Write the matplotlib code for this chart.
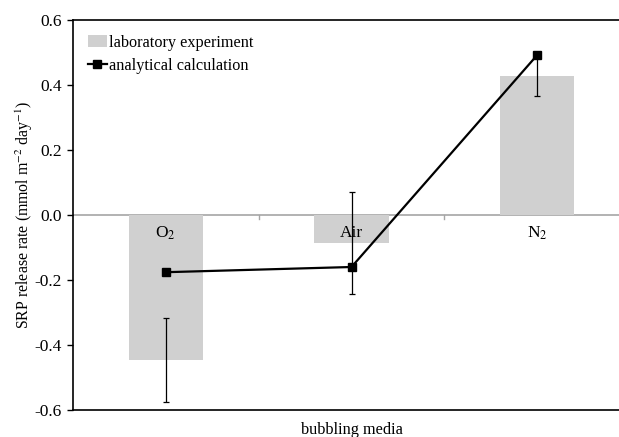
import numpy as np
import matplotlib.pyplot as plt
from matplotlib.ticker import FixedLocator

plt.rcParams['font.family'] = ['Liberation Serif', 'DejaVu Serif']
plt.rcParams['mathtext.fontset'] = 'stix'
plt.rcParams['axes.unicode_minus'] = False

# datos
medios = ['O$_2$', 'Air', 'N$_2$']
experimento = [-0.446, -0.086, 0.428]
experimento_err = [0.13, 0.156, 0.062]
calculo = [-0.176, -0.160, 0.492]
yticks = [-0.6, -0.4, -0.2, 0.0, 0.2, 0.4, 0.6]

x = np.arange(len(medios))

fig = plt.figure(figsize=(6.19, 4.37), dpi=100)
ax = fig.add_axes([73/619, 1 - 410/437, 557/619, 390/437])

# barras del experimento con barras de error
barras = ax.bar(x, experimento, width=0.4, color='#d0d0d0', zorder=1)
ax.errorbar(x, experimento, yerr=experimento_err, fmt='none', ecolor='black',
            elinewidth=0.9, capsize=2, capthick=0.9, zorder=2)

# cálculo analítico
linea, = ax.plot(x, calculo, color='black', lw=1.6, marker='s', markersize=6, zorder=3)

# eje horizontal en cero
ax.axhline(0, color='#a6a6a6', lw=1.2, zorder=0.5)
for b in [0.5, 1.5]:
    ax.plot([b, b], [0, -0.012], color='#a6a6a6', lw=1, zorder=0.5)

for xi, nombre in zip(x, medios):
    ax.text(xi, -0.03, nombre, ha='center', va='top', fontsize=12.5, zorder=4)

ax.set_xlim(-0.5, 2.5)
ax.set_ylim(-0.6, 0.6)
ax.yaxis.set_major_locator(FixedLocator(yticks))
ax.set_yticklabels([f'{v:.1f}' for v in yticks], fontsize=12.5)
ax.set_xticks([])
ax.tick_params(axis='y', direction='out', length=4, width=1, pad=4)

for s in ax.spines.values():
    s.set_linewidth(1.2)

ax.set_ylabel('SRP release rate (mmol m$^{-2}$ day$^{-1}$)', fontsize=11.4)
ax.yaxis.set_label_coords(-0.068, 0.5)
ax.set_xlabel('bubbling media', fontsize=11.7)
ax.xaxis.set_label_coords(0.5, -0.031)

ax.legend([barras, linea], ['laboratory experiment', 'analytical calculation'],
          loc='upper left', frameon=False, fontsize=11.7, handlelength=1.2,
          handletextpad=0.1, borderaxespad=0.5, labelspacing=0.45)

plt.savefig('out.png', dpi=100)
